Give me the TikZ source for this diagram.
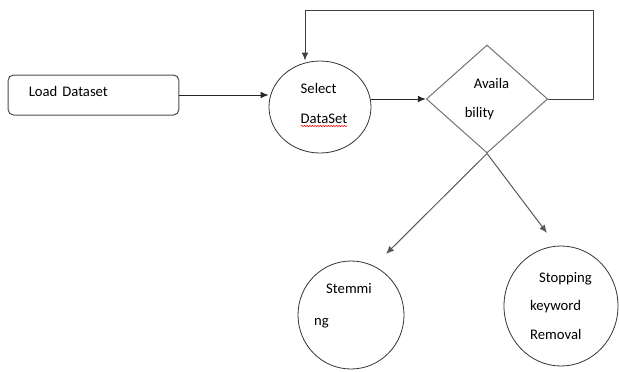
\documentclass[tikz,border=0pt]{standalone}
\usepackage{fontspec}
\setmainfont{Carlito}
\usetikzlibrary{arrows.meta}
\usetikzlibrary{shapes.geometric}
\usetikzlibrary{decorations.pathmorphing}

\begin{document}
\begin{tikzpicture}[>={Latex[length=6pt,width=5pt]},x=0.75pt,y=-0.75pt,line width=0.75pt,
      font=\fontsize{11}{13.6}\selectfont,
      box node/.style={draw=black!70,rounded corners=4pt,minimum width=128pt,
        minimum height=30pt,text width=97pt,inner xsep=15.5pt,align=left,
        text height=7pt,text depth=5pt},
      round node/.style={ellipse,draw=black!80,line width=0.6pt,inner sep=0pt,align=left},
      test node/.style={diamond,draw=black!55,inner sep=0pt,minimum width=91pt,
        minimum height=81pt,align=left}]
    \useasboundingbox (0,0) rectangle (619,372);
    \node[box node] (load) at (93.5,95) {Load Dataset};
    \node[round node,minimum width=76.5pt,minimum height=69pt,
      label={[align=left,shift={(3pt,3pt)}]center:Select\\[8.9pt]DataSet}]
      (sel) at (320,107) {};
    \node[test node] (avail) at (487,99) {\hspace{6.75pt}Availa\\[8.15pt]bility};
    \node[round node,minimum width=79.5pt,minimum height=81pt,
      label={[align=left,shift={(-6pt,7pt)}]center:\hspace{9pt}Stemmi\\[10.4pt]ng}]
      (stem) at (351,315) {};
    \node[round node,minimum width=85.5pt,minimum height=90pt] (stop) at (561,306)
      {\hspace{6.75pt}Stopping\\[7.8pt]keyword\\[7.8pt]Removal};
    % free ends of the loop and of the two lower arrows
    \coordinate (ret) at (593,10);
    \coordinate (stemtip) at (386,254);
    \coordinate (stoptip) at (547,233);
    % spell-check mark under DataSet
    \draw[red,line width=0.4pt,decorate,decoration={snake,amplitude=0.5pt,segment length=2pt}]
      (301,126) -- (347,126);
    \draw[->,black!85] (load.east) -- (load.east -| sel.west);
    \draw[->,black!85] (avail.west -| sel.east) -- (avail.west);
    \draw[->,black!75] (avail.east) -| (ret) -| ([xshift=-11.25pt]sel.north);
    \draw[->,black!65] (avail.south) -- (stemtip);
    \draw[->,black!65] (avail.south) -- (stoptip);
  \end{tikzpicture}
\end{document}
